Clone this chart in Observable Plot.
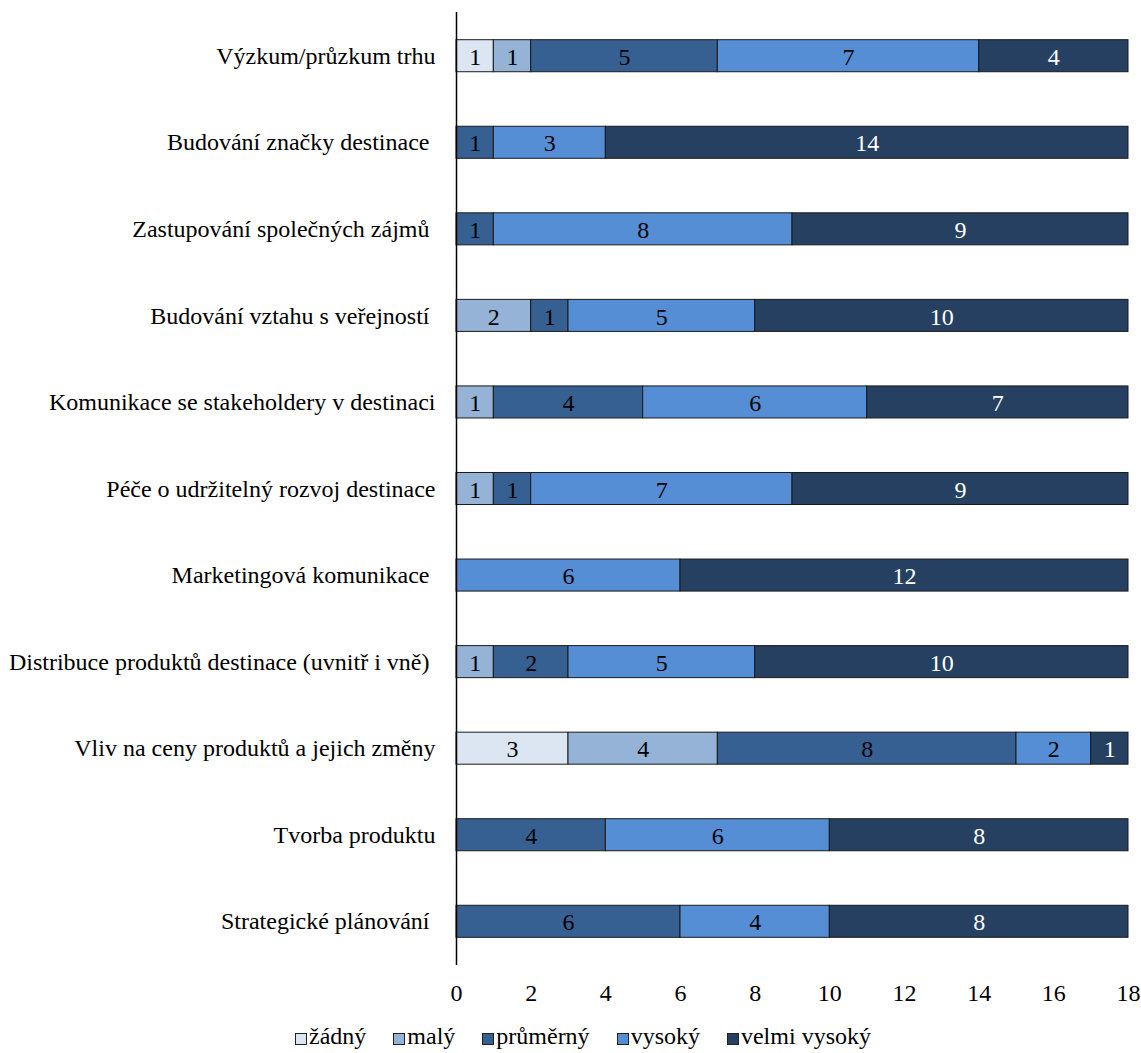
<!DOCTYPE html>
<html>
<head>
<meta charset="utf-8">
<script src="https://cdn.jsdelivr.net/npm/d3@7"></script>
<script src="https://cdn.jsdelivr.net/npm/@observablehq/plot@0.6"></script>
<style>
  html, body { margin: 0; padding: 0; background: #fff; }
  #chart { position: relative; width: 1141px; height: 1053px; overflow: hidden; }
  .legend { position: absolute; left: 295px; top: 1023px; display: flex; font-family: "Liberation Serif", "Times New Roman", serif; font-size: 24px; line-height: 27px; color: #000; white-space: nowrap; }
  .legend span.item { display: inline-flex; align-items: center; margin-right: 27px; }
  .legend span.sw { display: inline-block; box-sizing: border-box; width: 12px; height: 12px; border: 1px solid #222; margin-right: 2px; margin-top: 5px; }
</style>
</head>
<body>
<div id="chart"></div>
<script>
// Activity areas, top to bottom
const categories = [
  "Výzkum/průzkum trhu",
  "Budování značky destinace ",
  "Zastupování společných zájmů ",
  "Budování vztahu s veřejností ",
  "Komunikace se stakeholdery v destinaci",
  "Péče o udržitelný rozvoj destinace",
  "Marketingová komunikace ",
  "Distribuce produktů destinace (uvnitř i vně) ",
  "Vliv na ceny produktů a jejich změny",
  "Tvorba produktu",
  "Strategické plánování "
];

// Rating levels (stack order) and their fills
const levels = ["žádný", "malý", "průměrný", "vysoký", "velmi vysoký"];
const levelColors = ["#dce6f2", "#95b3d7", "#376092", "#558ed5", "#254061"];

// Counts per level, one value per category (same order as categories)
const zadny       = [1, 0, 0, 0, 0, 0, 0, 0, 3, 0, 0];
const maly        = [1, 0, 0, 2, 1, 1, 0, 1, 4, 0, 0];
const prumerny    = [5, 1, 1, 1, 4, 1, 0, 2, 8, 4, 6];
const vysoky      = [7, 3, 8, 5, 6, 7, 6, 5, 2, 6, 4];
const velmiVysoky = [4, 14, 9, 10, 7, 9, 12, 10, 1, 8, 8];

const xTicks = [0, 2, 4, 6, 8, 10, 12, 14, 16, 18];

const series = [zadny, maly, prumerny, vysoky, velmiVysoky];
const data = [];
categories.forEach((c, i) => {
  levels.forEach((lv, j) => {
    const v = series[j][i];
    if (v > 0) data.push({category: c, level: lv, value: v});
  });
});

const font = "'Liberation Serif', 'Times New Roman', serif";
const stackOpts = {x: "value", y: "category", z: "level", order: levels};

const chart = Plot.plot({
  width: 1141,
  height: 1015,
  marginLeft: 456,
  marginRight: 13,
  marginTop: 12,
  marginBottom: 50,
  style: {fontFamily: font, fontSize: "24px", color: "#000", background: "#fff"},
  x: {domain: [0, 18], ticks: xTicks, label: null},
  y: {domain: categories, paddingInner: 0.63, paddingOuter: 0.32, round: false, label: null},
  color: {domain: levels, range: levelColors},
  marks: [
    Plot.barX(data, Plot.stackX({
      ...stackOpts,
      fill: "level",
      stroke: "#1a1a1a",
      strokeWidth: 1
    })),
    Plot.text(data, Plot.stackX({
      ...stackOpts,
      text: d => String(d.value),
      fill: d => d.level === "velmi vysoký" ? "#fff" : "#000",
      fontSize: 24,
      dy: 1
    })),
    Plot.axisX({ticks: xTicks, tickSize: 0, tickPadding: 18, fontSize: 24, label: null}),
    Plot.axisY({tickSize: 0, tickPadding: 21, fontSize: 24, label: null}),
    Plot.ruleX([0], {stroke: "#000", strokeWidth: 1.5})
  ]
});

const root = document.getElementById("chart");
root.appendChild(chart);

const legend = document.createElement("div");
legend.className = "legend";
levels.forEach((lv, j) => {
  const item = document.createElement("span");
  item.className = "item";
  const sw = document.createElement("span");
  sw.className = "sw";
  sw.style.background = levelColors[j];
  item.appendChild(sw);
  item.appendChild(document.createTextNode(lv));
  legend.appendChild(item);
});
root.appendChild(legend);
</script>
</body>
</html>
